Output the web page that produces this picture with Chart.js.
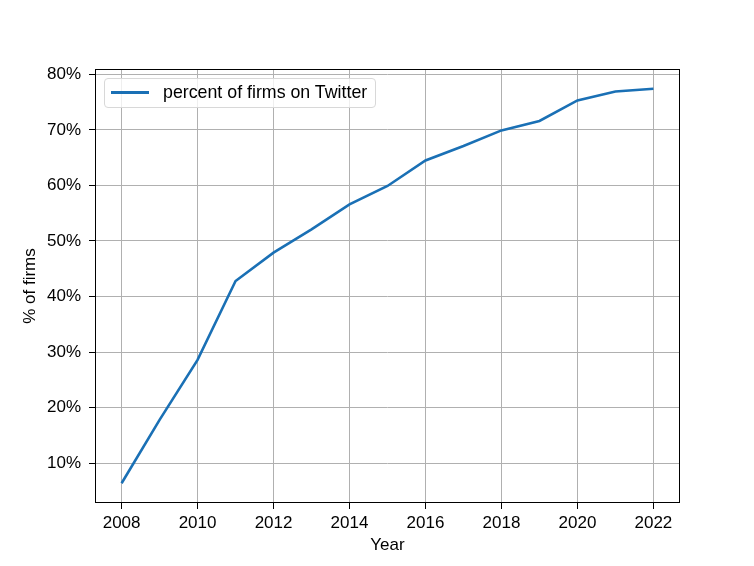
<!DOCTYPE html>
<html>
<head>
<meta charset="utf-8">
<script src="https://cdn.jsdelivr.net/npm/chart.js@4/dist/chart.umd.min.js"></script>
<style>
  html, body { margin: 0; padding: 0; background: #fff; }
  #wrap { position: relative; width: 754px; height: 566px; }
  #legend {
    position: absolute; left: 104px; top: 78px; width: 270px; height: 28px;
    border: 1px solid #d8d8d8; border-radius: 4px; background: rgba(255,255,255,0.8);
    font-family: "Liberation Sans", Arial, sans-serif; font-size: 17.8px; color: #000;
  }
  #legend .swatch { position: absolute; left: 6px; top: 12px; width: 38px; height: 3px; background: #1a70b5; }
  #legend .label { position: absolute; left: 58px; top: 3px; white-space: nowrap; }
</style>
</head>
<body>
<div id="wrap">
  <canvas id="chart" width="754" height="566"></canvas>
  <div id="legend"><span class="swatch"></span><span class="label">percent of firms on Twitter</span></div>
</div>
<script>
const years = [2008, 2009, 2010, 2011, 2012, 2013, 2014, 2015, 2016, 2017, 2018, 2019, 2020, 2021, 2022];
const pctFirms = [6.4, 17.8, 28.6, 42.8, 47.9, 52.1, 56.6, 59.9, 64.5, 67.1, 69.9, 71.6, 75.3, 76.9, 77.4];
const xTicks = [2008, 2010, 2012, 2014, 2016, 2018, 2020, 2022];
const yTicks = [10, 20, 30, 40, 50, 60, 70, 80];

const font = { family: '"Liberation Sans", Arial, sans-serif', size: 17 };

// cadre noir autour de la zone du graphique (comme matplotlib)
const frame = {
    id: 'frame',
    afterDatasetsDraw(chart) {
        const a = chart.chartArea;
        const c = chart.ctx;
        c.save();
        c.strokeStyle = '#000';
        c.lineWidth = 1;
        c.strokeRect(a.left + 0.5, a.top + 0.5, a.right - a.left - 1, a.bottom - a.top - 1);
        c.restore();
    }
};

const ctx = document.getElementById('chart').getContext('2d');

const myChart = new Chart(ctx, {
    type: 'line',
    data: {
        datasets: [{
            label: 'percent of firms on Twitter',
            data: years.map((y, i) => ({ x: y, y: pctFirms[i] })),
            borderColor: '#1a70b5',
            borderWidth: 2.6,
            pointRadius: 0,
            fill: false,
            tension: 0
        }]
    },
    options: {
        responsive: false,
        animation: false,
        layout: { padding: { left: 10, top: 69, right: 74, bottom: 10 } },
        scales: {
            x: {
                type: 'linear',
                min: 2007.3,
                max: 2022.7,
                afterBuildTicks: s => { s.ticks = xTicks.map(v => ({ value: v })); },
                afterFit: s => { s.height = 53; },
                grid: { color: '#b0b0b0', tickColor: '#000', tickLength: 6, lineWidth: 1 },
                border: { display: false },
                ticks: { color: '#000', font: font, padding: 4, maxRotation: 0, callback: v => String(v) },
                title: { display: true, text: 'Year', color: '#000', font: { ...font, lineHeight: 1 }, padding: { top: 0, bottom: 2 } }
            },
            y: {
                min: 2.85,
                max: 80.95,
                afterBuildTicks: s => { s.ticks = yTicks.map(v => ({ value: v })); },
                afterFit: s => { s.width = 85; },
                grid: { color: '#b0b0b0', tickColor: '#000', tickLength: 6, lineWidth: 1 },
                border: { display: false },
                ticks: { color: '#000', font: font, padding: 8, callback: v => v + '%' },
                title: { display: true, text: '% of firms', color: '#000', font: { ...font, lineHeight: 1 }, padding: { top: 12, bottom: 0 } }
            }
        },
        plugins: {
            legend: { display: false },
            tooltip: { enabled: false }
        }
    },
    plugins: [frame]
});
</script>
</body>
</html>
